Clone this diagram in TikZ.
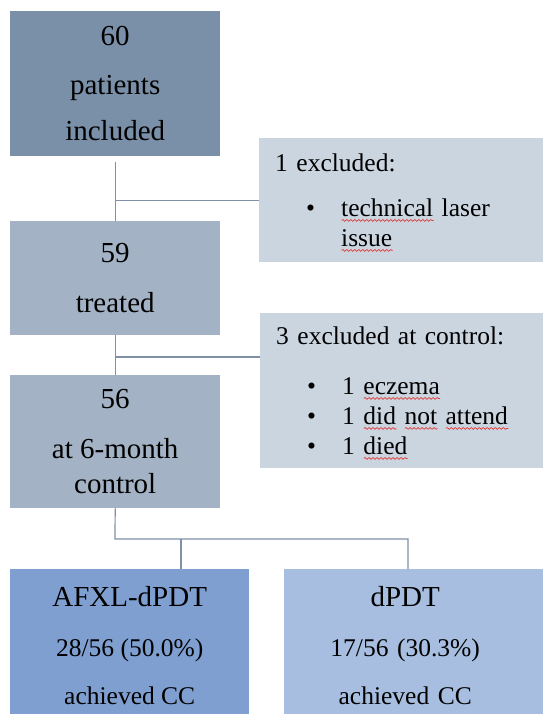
\documentclass[tikz,border=0pt]{standalone}
\usepackage{fontspec}
\setmainfont{Liberation Serif}
\usetikzlibrary{decorations.pathmorphing}
\definecolor{inclfill}{HTML}{7A8FA8}
\definecolor{stepfill}{HTML}{A3B3C5}
\definecolor{exclfill}{HTML}{CBD5E0}
\definecolor{afxlfill}{HTML}{7F9FD0}
\definecolor{dpdtfill}{HTML}{A7BEE0}
\definecolor{linkcol}{HTML}{7F8FA5}
\definecolor{spellred}{HTML}{E23A3A}
\newsavebox{\spellbox}
\newcommand{\spell}[1]{\sbox{\spellbox}{#1}\rlap{\smash{\tikz[x=1pt,y=1pt,baseline=0pt]
  \draw[spellred,line width=0.7pt,decorate,decoration={snake,amplitude=0.9pt,segment length=4pt}]
  (0,-4) -- (\the\wd\spellbox,-4);}}\usebox{\spellbox}}
\newcommand{\bulitem}{\hspace*{31pt}\makebox[35pt][l]{\textbullet}}
\begin{document}
\begin{tikzpicture}[x={(1pt,0pt)},y={(0pt,-1pt)},
  flowbox/.style={anchor=north west,minimum width=210pt,minimum height=#1,inner sep=0pt,
    align=center,font=\fontsize{29}{35}\selectfont},
  exclbox/.style={anchor=north west,minimum height=#1,text width=259pt,inner xsep=16pt,
    inner ysep=0pt,align=left,fill=exclfill,font=\fontsize{25.5}{30}\selectfont},
  armbox/.style={anchor=north west,minimum height=152pt,inner sep=0pt,align=center,
    font=\fontsize{25.5}{48}\selectfont},
  link/.style={draw=linkcol,line width=1.2pt}]
        \useasboundingbox (0,0) rectangle (542,714);
        \node[flowbox=145pt,fill=inclfill] (incl) at (10,11) {60\\[14pt]patients\\[11pt]included};
        \node[flowbox=114pt,fill=stepfill] (treat) at (10,221) {59\\[15pt]treated};
        \node[flowbox=133pt,fill=stepfill] (ctrl) at (10,375) {56\\[15pt]at 6-month\\control};
        \node[exclbox=124pt] (excl1) at (259,138) {1 excluded:\\[15pt]\bulitem\spell{technical} laser\\\hspace*{66pt}\spell{issue}};
        \node[exclbox=155pt] (excl2) at (260,313) {3 excluded at control:\\[20pt]\bulitem 1 \spell{eczema}\\\bulitem 1 \spell{did} \spell{not} \spell{attend}\\\bulitem 1 \spell{died}};
        \node[armbox,minimum width=239pt,fill=afxlfill] (afxl) at (10,569) {{\fontsize{29}{35}\selectfont AFXL-dPDT}\\[2pt]28/56 (50.0\%)\\achieved CC};
        \node[armbox,text width=242pt,fill=dpdtfill] (dpdt) at (284,569) {{\fontsize{29}{35}\selectfont dPDT}\\[2pt]17/56 (30.3\%)\\achieved CC};
        \fill[dpdtfill] (dpdt.north east) rectangle ([xshift=30pt]dpdt.south east);
        \coordinate (gate) at (115,357);
        \coordinate (split) at (115,539);
        \coordinate (armA) at (181,539);
        \coordinate (armB) at (408,539);
        \draw[link] ([yshift=-6pt]incl.south) -- (treat.north);
        \draw[link] (excl1.west) -- (excl1.west -| treat.north);
        \draw[link] (treat.south) -- (ctrl.north);
        \draw[link] (gate) -- (gate -| excl2.west);
        \draw[link] (ctrl.south) -- (split) -- (armB) -- (armB |- dpdt.north);
        \draw[link] (armA) -- (armA |- afxl.north);
\end{tikzpicture}
\end{document}
